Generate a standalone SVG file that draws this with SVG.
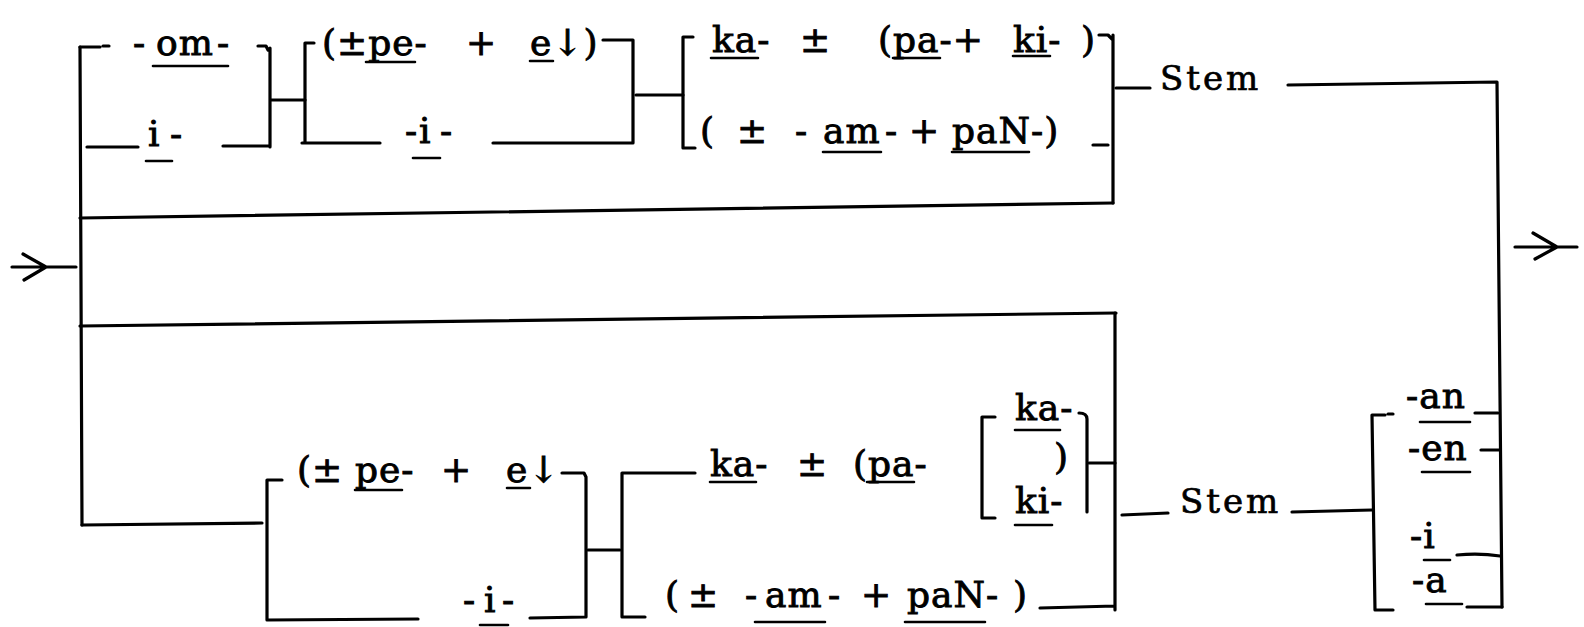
<svg xmlns="http://www.w3.org/2000/svg" width="1584" height="627" viewBox="0 0 1584 627">
<style>
.t{font-family:"DejaVu Serif","Liberation Serif",serif;font-size:36px;letter-spacing:1px;fill:#000;stroke:#000;stroke-width:0.9}
.s{font-family:"DejaVu Serif","Liberation Serif",serif;font-size:34px;letter-spacing:3px;fill:#000;stroke:#000;stroke-width:0.7}
.ln{stroke:#000;stroke-width:3.2;fill:none;stroke-linecap:round;stroke-linejoin:round}
.ul{stroke:#000;stroke-width:2.6;fill:none;stroke-linecap:round}
</style>
<rect width="1584" height="627" fill="#fff"/>
<g id="connectors">
<path class="ln" d="M12,267 H76 M23,254 L46,267 L24,280"/>
<path class="ln" d="M80,47 L82,525"/>
<path class="ln" d="M80,218 L1113,203"/>
<path class="ln" d="M80,326 L1116,313"/>
<path class="ln" d="M82,525 L262,523"/>
<path class="ln" d="M271,100 H305"/>
<path class="ln" d="M636,95 H683"/>
<path class="ln" d="M588,550 H620"/>
<path class="ln" d="M1089,463 H1115"/>
<path class="ln" d="M1116,88 H1150"/>
<path class="ln" d="M1288,85 L1497,82 L1502,607"/>
<path class="ln" d="M1122,515 L1168,513"/>
<path class="ln" d="M1292,512 L1372,510"/>
<path class="ln" d="M1515,247 H1577 M1533,233 L1557,247 L1535,259"/>
</g>
<g id="bracketA">
<path class="ln" d="M80,47 H100 M103,46 H109 M258,46 H266 L268,50 M270,48 V147 M87,147 H138 M223,146 H270"/>
<text class="t" x="133" y="55">-</text>
<text class="t" x="156" y="55">om</text>
<text class="t" x="217" y="55">-</text>
<path class="ul" d="M153,66 H228"/>
<text class="t" x="148" y="146">i</text>
<text class="t" x="170" y="146">-</text>
<path class="ul" d="M146,161 H172"/>
</g>
<g id="bracketB">
<path class="ln" d="M314,43 H305 V142 M302,143 H380 M493,143 H633 V40 H603"/>
<text class="t" x="322" y="55">(±pe-</text>
<text class="t" x="466" y="55">+</text>
<text class="t" x="530" y="55">e↓)</text>
<path class="ul" d="M366,62 H415 M530,61 H553"/>
<text class="t" x="405" y="143">-</text>
<text class="t" x="419" y="143">i</text>
<text class="t" x="440" y="143">-</text>
<path class="ul" d="M413,158 H440"/>
</g>
<g id="bracketC">
<path class="ln" d="M693,37 H683 V148 H695 M1099,35 H1108 L1113,40 M1113,35 V203 M1093,145 H1108"/>
<text class="t" x="712" y="52">ka-</text>
<text class="t" x="800" y="52">±</text>
<text class="t" x="878" y="52">(pa-+</text>
<text class="t" x="1013" y="52">ki-</text>
<text class="t" x="1081" y="52">)</text>
<path class="ul" d="M711,58 H758 M893,58 H940 M1013,56 H1050"/>
<text class="t" x="700" y="143">(</text>
<text class="t" x="737" y="143">±</text>
<text class="t" x="795" y="143">-</text>
<text class="t" x="823" y="143">am</text>
<text class="t" x="885" y="143">-</text>
<text class="t" x="909" y="143">+</text>
<text class="t" x="952" y="143">paN-)</text>
<path class="ul" d="M823,152 H881 M952,152 H1029"/>
</g>
<g id="stemTop">
<text class="s" x="1160" y="90">Stem</text>
</g>
<g id="bracketD">
<path class="ln" d="M282,480 H267 V620 L418,619 M530,618 L586,617 V477 L584,473 H562"/>
<text class="t" x="297" y="482">(±</text>
<text class="t" x="355" y="482">pe-</text>
<text class="t" x="441" y="482">+</text>
<text class="t" x="506" y="482">e↓</text>
<path class="ul" d="M355,490 H402 M507,488 H530"/>
<text class="t" x="463" y="612">-</text>
<text class="t" x="484" y="612">i</text>
<text class="t" x="502" y="612">-</text>
<path class="ul" d="M480,625 H508"/>
</g>
<g id="bracketE">
<path class="ln" d="M695,473 H622 V617 H645 M1040,608 L1115,606 M1115,313 V610"/>
<text class="t" x="710" y="476">ka-</text>
<text class="t" x="797" y="476">±</text>
<text class="t" x="853" y="476">(pa-</text>
<path class="ul" d="M710,482 H756 M867,482 H914"/>
<text class="t" x="665" y="607">(</text>
<text class="t" x="688" y="607">±</text>
<text class="t" x="745" y="607">-</text>
<text class="t" x="765" y="607">am</text>
<text class="t" x="828" y="607">-</text>
<text class="t" x="861" y="607">+</text>
<text class="t" x="907" y="607">paN-</text>
<text class="t" x="1013" y="607">)</text>
<path class="ul" d="M755,622 H825 M905,622 H985"/>
</g>
<g id="bracketKaKi">
<path class="ln" d="M995,417 H982 V518 H995 M1079,413 Q1087,413 1087,419 V512"/>
<text class="t" x="1015" y="420">ka-</text>
<path class="ul" d="M1015,430 H1060"/>
<text class="t" x="1054" y="469">)</text>
<text class="t" x="1015" y="513">ki-</text>
<path class="ul" d="M1015,525 H1052"/>
</g>
<g id="stemBottom">
<text class="s" x="1180" y="513">Stem</text>
</g>
<g id="suffixes">
<path class="ln" d="M1385,415 H1372 L1375,610 H1393 M1388,414 H1393 M1475,413 H1498 M1481,450 H1499 M1457,555 Q1480,553 1500,556 M1467,607 H1502"/>
<text class="t" x="1406" y="408">-an</text>
<path class="ul" d="M1420,422 H1470"/>
<text class="t" x="1408" y="460">-en</text>
<path class="ul" d="M1422,472 H1470"/>
<text class="t" x="1410" y="548">-i</text>
<path class="ul" d="M1424,560 H1450"/>
<text class="t" x="1412" y="592">-a</text>
<path class="ul" d="M1426,604 H1462"/>
</g>
</svg>
